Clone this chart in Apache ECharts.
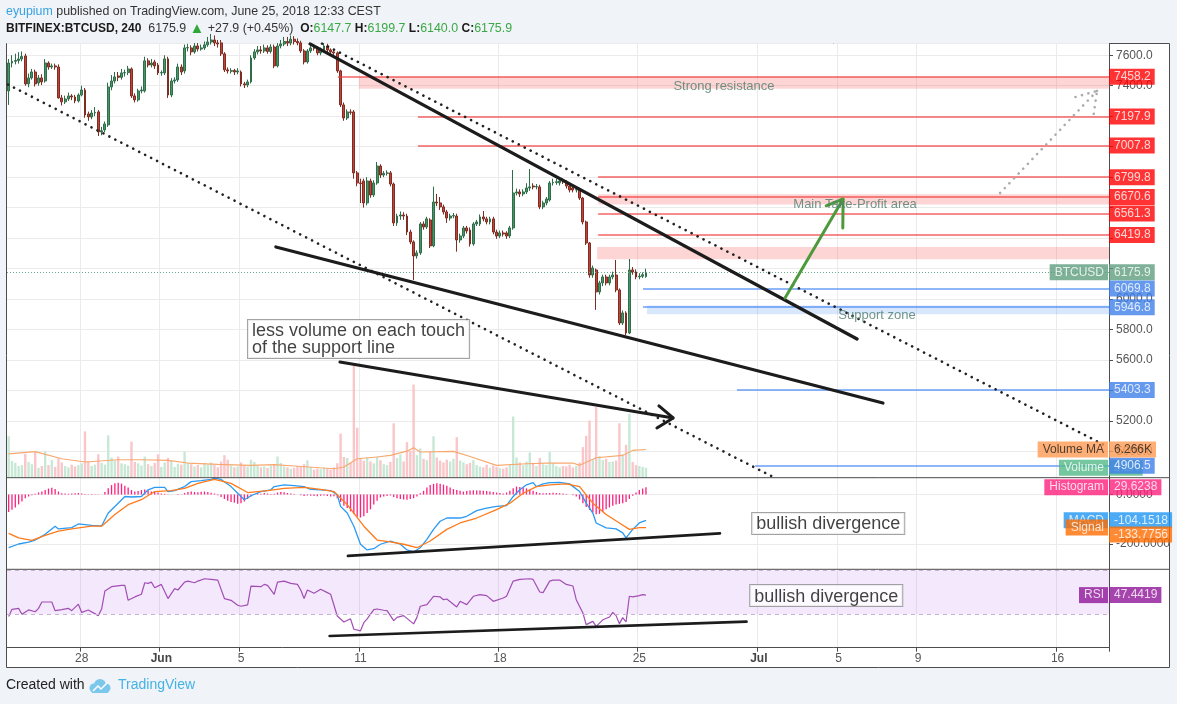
<!DOCTYPE html>
<html><head><meta charset="utf-8">
<script src="https://cdn.jsdelivr.net/npm/echarts@6/dist/echarts.min.js"></script>
<style>html,body{margin:0;padding:0;background:#f0f3f7;}#c{width:1177px;height:704px;}</style>
</head><body><div id="c"></div>
<script>
// ---------------- DATA ----------------
const headerUser = 'eyupium';
const headerRest = 'published on TradingView.com, June 25, 2018 12:33 CEST';
const symbolName = 'BITFINEX:BTCUSD, 240';
const changeText = '+27.9 (+0.45%)';
const footerText = 'Created with';
const footerBrand = 'TradingView';

const slotCount = 332;
const slotStartUTC = Date.UTC(2018, 4, 24, 8);
const slots = [];
for (let i = 0; i < slotCount; i++) slots.push(new Date(slotStartUTC + i * 4 * 3600e3).toISOString().slice(0, 13));

const dayTickSlots = [22, 46, 70, 106, 148, 190, 226, 250, 274, 316];
const dayTickLabels = ['28', 'Jun', '5', '11', '18', '25', 'Jul', '5', '9', '16'];
const monthTicks = ['Jun', 'Jul'];

// [open, close, low, high]
const candles = [
[7366,7549,7274,7575],[7549,7560,7520,7600],[7560,7566,7540,7610],[7566,7575,7545,7620],[7575,7592,7560,7625],
[7595,7412,7400,7610],[7412,7451,7390,7480],[7451,7490,7440,7510],[7490,7412,7395,7505],[7418,7451,7400,7470],
[7451,7425,7405,7475],[7431,7549,7420,7575],[7549,7523,7505,7560],[7523,7530,7510,7545],[7530,7523,7505,7545],
[7523,7320,7315,7540],[7320,7294,7270,7340],[7294,7313,7280,7335],[7313,7333,7300,7355],[7333,7326,7305,7345],
[7326,7300,7285,7340],[7300,7339,7290,7350],[7339,7372,7330,7400],[7372,7208,7190,7385],[7215,7195,7170,7230],
[7195,7221,7180,7240],[7221,7225,7200,7260],[7228,7097,7070,7240],[7097,7105,7075,7130],[7110,7149,7095,7165],
[7143,7392,7130,7420],[7392,7431,7370,7470],[7431,7458,7415,7490],[7464,7455,7430,7490],[7455,7484,7440,7510],
[7484,7486,7460,7505],[7486,7510,7470,7530],[7510,7333,7320,7520],[7333,7307,7290,7350],[7307,7366,7295,7380],
[7366,7372,7350,7395],[7366,7563,7355,7590],[7563,7536,7520,7580],[7536,7549,7520,7575],[7556,7530,7510,7570],
[7536,7484,7470,7550],[7484,7486,7465,7500],[7484,7576,7470,7600],[7576,7339,7320,7590],[7339,7431,7325,7450],
[7431,7438,7415,7455],[7438,7523,7425,7545],[7523,7490,7470,7540],[7497,7648,7480,7670],[7648,7650,7625,7675],
[7648,7622,7600,7665],[7622,7661,7610,7680],[7661,7641,7625,7680],[7641,7648,7630,7670],[7648,7668,7635,7690],
[7668,7687,7655,7720],[7687,7700,7670,7740],[7700,7681,7660,7730],[7681,7674,7650,7700],[7681,7609,7595,7700],
[7609,7504,7490,7620],[7504,7497,7480,7520],[7495,7500,7480,7515],[7500,7490,7470,7510],[7490,7497,7475,7515],
[7490,7412,7395,7500],[7412,7405,7385,7425],[7405,7425,7390,7440],[7425,7582,7415,7600],[7582,7622,7570,7640],
[7622,7635,7605,7660],[7635,7628,7610,7660],[7628,7648,7615,7670],[7648,7625,7610,7665],[7625,7654,7612,7672],
[7654,7530,7515,7670],[7530,7661,7520,7680],[7661,7674,7645,7700],[7674,7690,7660,7720],[7690,7680,7660,7720],
[7680,7705,7665,7730],[7705,7690,7670,7725],[7690,7681,7665,7710],[7681,7628,7615,7695],[7628,7556,7540,7640],
[7556,7628,7545,7640],[7628,7648,7615,7665],[7648,7645,7630,7665],[7645,7615,7600,7660],[7615,7635,7600,7650],
[7635,7661,7620,7680],[7661,7635,7620,7675],[7635,7622,7605,7645],[7622,7615,7600,7635],[7615,7497,7485,7625],
[7497,7274,7260,7505],[7274,7188,7170,7290],[7188,7228,7175,7245],[7228,7225,7210,7245],[7228,6828,6790,7240],
[6828,6762,6740,6840],[6762,6758,6630,6790],[6775,6631,6600,6790],[6631,6775,6615,6800],[6775,6683,6665,6790],
[6683,6762,6670,6780],[6762,6873,6750,6900],[6873,6814,6795,6885],[6814,6825,6800,6840],[6825,6828,6810,6845],
[6828,6755,6740,6840],[6755,6500,6480,6765],[6500,6545,6480,6560],[6545,6552,6520,6575],[6552,6545,6520,6570],
[6545,6440,6420,6560],[6440,6375,6360,6455],[6375,6283,6125,6385],[6283,6303,6265,6320],[6303,6493,6290,6505],
[6493,6473,6455,6510],[6473,6526,6460,6540],[6519,6349,6335,6530],[6349,6637,6340,6738],[6637,6631,6610,6690],
[6631,6605,6585,6670],[6605,6572,6555,6620],[6572,6532,6500,6585],[6532,6545,6515,6560],[6545,6548,6530,6565],
[6545,6388,6311,6560],[6388,6414,6370,6430],[6414,6467,6400,6480],[6467,6447,6430,6480],[6453,6362,6345,6470],
[6362,6493,6350,6505],[6493,6506,6480,6520],[6493,6539,6480,6555],[6539,6526,6510,6578],[6526,6506,6490,6540],
[6506,6526,6490,6540],[6526,6440,6425,6540],[6440,6414,6395,6455],[6414,6434,6400,6450],[6434,6427,6410,6450],
[6434,6414,6395,6445],[6414,6467,6400,6480],[6467,6696,6455,6847],[6696,6703,6680,6725],[6703,6690,6670,6720],
[6690,6703,6675,6720],[6703,6729,6690,6760],[6729,6736,6710,6853],[6742,6736,6720,6760],[6736,6738,6720,6755],
[6736,6605,6590,6750],[6605,6631,6590,6645],[6631,6657,6615,6670],[6650,6762,6640,6775],[6762,6765,6745,6790],
[6765,6770,6750,6790],[6762,6775,6745,6795],[6775,6768,6755,6790],[6768,6742,6725,6780],[6742,6716,6700,6755],
[6729,6716,6700,6740],[6716,6718,6700,6735],[6722,6663,6650,6730],[6663,6506,6490,6670],[6506,6368,6355,6515],
[6368,6158,6140,6375],[6158,6204,6140,6220],[6191,6047,5929,6200],[6047,6106,6030,6120],[6106,6145,6085,6160],
[6145,6106,6090,6160],[6106,6145,6090,6160],[6145,6158,6130,6180],[6158,6060,6045,6257],[6060,5843,5830,6070],
[5843,5909,5830,5925],[5909,5778,5764,5920],[5778,6191,5770,6263],[6191,6178,6160,6210],[6178,6145,6130,6195],
[6145,6150,6130,6170],[6150,6160,6138,6175],[6147.7,6175.9,6140.0,6199.7]
];

const volumes = [
9200,3700,3300,2600,2800,5300,3500,3000,5700,2200,
2600,5900,2800,3900,2400,4300,3400,2600,2300,2900,
2500,2800,3200,10300,3600,2600,2900,5200,3300,2900,
9400,4500,3800,4700,3200,3000,2700,8000,3500,3200,
2700,4700,3000,2600,3300,5200,2400,3400,4400,3900,
2400,3100,2900,5800,3300,3000,2500,2800,2300,3300,
2900,3400,2800,2300,3600,5000,4000,2700,2300,2500,
3400,2800,2500,4000,3500,2600,2300,2500,2200,2700,
3000,4700,3300,2500,2300,2000,2200,2600,2400,3000,
3850,2400,1800,2000,1900,2200,2000,1800,2300,3200,
9800,4600,4400,3300,25500,11100,4200,3800,4500,3600,
3200,4700,3900,3000,2800,3500,12100,4400,5200,3600,
7900,6000,20700,5000,6500,4200,3900,5800,9200,4500,
3800,3400,4000,3600,4200,9000,3800,3400,3000,3300,
3900,2800,2500,2300,2900,2200,2700,2400,2100,2000,
2300,3000,13600,4500,3400,2800,3600,5600,3300,2600,
4400,3000,2800,5700,3200,2600,2300,2600,2500,2900,
2300,2600,3400,6800,9300,12700,4000,15700,4800,3900,
4200,3500,3600,3800,12100,5200,7300,14200,3500,2800,
2600,2400,2200
];

const volumeMaPoints = [[0,5300],[8,5800],[16,4200],[23,3500],[33,4000],[40,4000],[48,3850],[54,3250],[63,2960],[73,2740],[80,2900],[86,2600],[98,2000],[101,2370],[105,4200],[111,4600],[115,4960],[120,5900],[122,6660],[124,5700],[134,5850],[139,4700],[147,2740],[156,3100],[162,3250],[170,3250],[172,2740],[177,4440],[185,4960],[188,6070],[192,6266]];

const histogram = [
-71,-62,-52,-40,-28,-15,-8,-3,3,8,
12,18,24,27,22,12,5,4,3,4,
5,6,4,2,1,2,1,1,0,10,
25,38,45,47,44,35,28,18,12,14,
18,20,17,12,10,8,4,3,1,0,
0,2,1,6,10,12,10,9,11,12,
10,7,4,-3,-10,-18,-25,-30,-33,-37,
-35,-28,-18,-8,0,5,3,6,4,-2,
3,8,10,9,6,4,2,0,-3,-6,
-4,-5,-6,-7,-5,-4,-6,-8,-7,-15,
-30,-45,-55,-68,-80,-90,-93,-88,-75,-60,
-40,-25,-12,-8,-6,-4,-10,-15,-18,-20,
-21,-18,-15,-8,5,15,28,38,43,45,
43,40,35,28,22,18,15,12,14,16,
17,16,16,15,14,12,10,8,6,4,
8,15,25,32,30,28,25,20,15,10,
6,5,5,6,7,6,5,4,2,0,
-3,-8,-20,-35,-50,-62,-72,-80,-78,-70,
-60,-52,-45,-40,-38,-35,-30,-18,-5,8,
18,24,29.6238
];

const macdPoints = [[0,-215],[3,-200],[6,-192],[8,-184],[11,-161],[14,-128],[15,-139],[19,-134],[21,-119],[25,-125],[28,-127],[30,-75],[33,-35],[35,-8],[37,-10],[40,-8],[42,19],[44,29],[47,29],[48,12],[50,16],[53,32],[55,52],[58,56],[61,61],[62,66],[64,61],[67,32],[69,5],[71,-21],[73,-5],[76,12],[79,19],[80,32],[83,39],[86,36],[89,32],[91,21],[94,19],[97,16],[99,-1],[100,-48],[102,-75],[104,-128],[106,-201],[108,-224],[110,-219],[112,-201],[115,-188],[118,-201],[120,-224],[122,-232],[124,-215],[126,-181],[128,-141],[130,-108],[132,-95],[136,-95],[138,-88],[141,-65],[144,-55],[147,-48],[150,-45],[152,-8],[154,19],[156,39],[158,48],[159,32],[161,43],[163,48],[166,49],[169,43],[172,12],[174,-35],[176,-75],[177,-115],[180,-135],[183,-139],[185,-155],[186,-175],[188,-141],[190,-115],[192,-104.1518]];

const signalPoints = [[0,-157],[3,-175],[7,-185],[11,-165],[15,-148],[19,-139],[25,-128],[28,-128],[32,-81],[36,-41],[40,-21],[44,12],[49,16],[53,25],[57,45],[62,61],[67,45],[72,8],[78,16],[83,25],[89,29],[94,21],[98,12],[102,-41],[107,-128],[111,-184],[115,-191],[119,-201],[123,-215],[127,-188],[132,-141],[136,-115],[141,-95],[147,-61],[151,-35],[155,5],[159,32],[163,39],[168,43],[172,32],[176,-35],[180,-81],[184,-115],[187,-141],[190,-134],[192,-133.7756]];

const rsiPoints = [[0,28],[1,34.5],[3,35.4],[4,30],[6,34],[8,32.3],[9,35.4],[10,41.2],[13,41.2],[14,33.3],[16,34.2],[18,35.4],[19,33.3],[21,39.2],[22,31.7],[24,33.9],[27,28.8],[28,34.8],[29,51.2],[31,55.1],[34,56.3],[35,56.3],[36,42.7],[38,45.8],[40,48.2],[41,58.7],[42,58.1],[43,59.3],[44,54.2],[46,57.2],[48,44.3],[50,53.3],[51,52.1],[53,59.3],[54,60.2],[56,58.7],[57,60.2],[59,62.3],[61,61.7],[63,61.1],[65,44.3],[67,42.7],[69,38.2],[70,37.3],[72,38.5],[73,55.7],[76,55.1],[77,57.2],[78,56.3],[80,48.2],[81,59.3],[83,60.2],[85,58.1],[87,57.2],[88,52.1],[89,44.3],[90,52.1],[92,49.1],[94,52.7],[96,49.7],[97,48.2],[99,28.5],[101,23],[103,25.9],[104,16.4],[106,15],[107,22.4],[108,25.9],[110,34.2],[111,34.8],[113,33.7],[114,33.3],[116,24.2],[117,27.2],[119,28.8],[122,21.3],[123,27.2],[124,37.3],[126,38.8],[128,46.4],[130,45.8],[131,43.3],[132,43.9],[135,36.7],[136,41.8],[138,38.8],[140,46.4],[142,47.9],[144,47],[146,41.8],[149,44.8],[150,46.4],[152,60.2],[154,61.7],[157,62.3],[158,61.7],[160,50.3],[161,49.7],[163,60.2],[164,61.1],[166,61.1],[168,57.2],[170,55.7],[171,43.3],[173,31.2],[174,20.6],[176,23.6],[177,19],[179,25],[181,27.5],[182,31.8],[183,28.8],[184,21.5],[185,27],[186,23],[187,46.4],[188,45.8],[190,47],[191,47.9],[192,47.4419]];

// drawn levels (price, start slot)
const resistanceLevels = [7458.2, 7197.9, 7007.8, 6799.8, 6670.6, 6561.3, 6419.8];
const resistanceFrom = [99.2, 123.3, 123.3, 177.6, 177.6, 177.6, 177.6];
const resistanceZones = [[7380, 7458.2], [6620, 6688], [6262, 6342]];
const resistanceZoneFrom = [105.5, 177.6, 177.3];
const supportLevels = [6069.8, 5946.8, 5403.3, 4906.5];
const supportFrom = [191.1, 191.1, 219.4, 224.9];
const supportZones = [[5900, 5958]];
const supportZoneFrom = [192.3];

// drawn trend lines ([slot, price] pairs)
const dottedLines = [[[94.4, 7677], [330.9, 5033]], [[-0.2, 7408], [230.3, 4833]]];
const solidLines = [[[90.8, 7674], [255.6, 5738]], [[80.5, 6342], [263.4, 5318]]];
const volumeArrow = [[99.8, 5587], [200.2, 5220]];
const volumeArrowHead = [[195.9, 5299], [200.2, 5220], [195.3, 5154]];
const targetArrow = [[233.9, 6007], [251.4, 6657]];
const targetArrowHead = [[246.3, 6612], [251.4, 6657], [251.3, 6467]];
const projection = [[298.7, 6696], [327.9, 7366]];
const projectionHead = [[[321.4, 7326], [327.9, 7366]], [[326.9, 7215], [327.9, 7366]]];
const macdDivergence = [[102.2, -248], [214.3, -157]];
const rsiDivergence = [[96.7, 10.3], [222.3, 23.3]];

const priceNotes = [['Strong resistance', 215.5, 7398], ['Main Take-Profit area', 255, 6624], ['Support zone', 261.6, 5896]];
const volumeNote = ['less volume on each touch', 'of the support line'];
const volumeNoteAt = [72.1, 5863];
const macdNote = 'bullish divergence', macdNoteAt = [224, -74.7];
const rsiNote = 'bullish divergence', rsiNoteAt = [223.4, 56.6];

// ---------------- CHART ----------------
const FONT = "'Liberation Sans', Arial, sans-serif";
const NARROW = "'Liberation Sans Narrow', 'Arial Narrow', 'Liberation Sans', sans-serif";
const RIGHT = 331.5;
const last = candles[candles.length - 1];
const lastVol = volumes[volumes.length - 1];
const lastMa = volumeMaPoints[volumeMaPoints.length - 1][1];
const lastMacd = macdPoints[macdPoints.length - 1][1];
const lastSig = signalPoints[signalPoints.length - 1][1];
const lastHist = histogram[histogram.length - 1];
const lastRsi = rsiPoints[rsiPoints.length - 1][1];

const UP = '#4a9468', DOWN = '#c0443a';
const RED = '#ff0000', BLUE = '#3d7fe8', TVGREEN = '#5e9e7e';
const mainTagPrices = resistanceLevels.concat(supportLevels, [last[1]]);
const PX_PER_USD = 434.2 / (7677 - 4828);

function tag(xi, yi, value, text, bg, fg, side, extra) {
  return {
    type: 'scatter', xAxisIndex: xi, yAxisIndex: yi, symbolSize: 0, clip: false, silent: true, z: extra && extra.z || 20,
    data: [[RIGHT, value]],
    label: Object.assign({
      show: true, position: side, distance: side === 'right' ? 0 : 1, formatter: text,
      backgroundColor: bg, color: fg, fontSize: 12, lineHeight: 13, padding: [2, 4, 1, 5], fontFamily: FONT
    }, extra && extra.label || {})
  };
}
function trend(xi, yi, pts, color, width, dash) {
  return { type: 'line', xAxisIndex: xi, yAxisIndex: yi, data: pts, showSymbol: false, symbol: 'none', silent: true, z: 8,
    lineStyle: { color: color, width: width, type: dash || 'solid', cap: 'round' } };
}
function note(xi, yi, at, text, boxed, size) {
  return { type: 'scatter', xAxisIndex: xi, yAxisIndex: yi, symbol: 'rect', symbolSize: 0, clip: false, silent: true, z: 15,
    data: [at],
    label: boxed ? { show: true, position: [0, 0], align: 'left', verticalAlign: 'top', formatter: text, color: '#111', fontSize: size, lineHeight: 17,
      fontFamily: FONT, backgroundColor: '#fff', borderColor: '#8c8c8c', borderWidth: 1, padding: [3, 4, 1, 4] }
      : { show: true, position: 'inside', formatter: text, color: '#4d7a6c', fontSize: 13, fontFamily: FONT } };
}

const dayInterval = (i) => dayTickSlots.indexOf(i) >= 0;
function catAxis(grid, bottom) {
  return {
    type: 'category', gridIndex: grid, data: slots, boundaryGap: true, show: true,
    axisLine: { show: !!bottom, onZero: false, lineStyle: { color: '#4d4d4d' } },
    axisTick: { show: !!bottom, interval: dayInterval, length: 4, lineStyle: { color: '#4d4d4d' } },
    axisLabel: { show: !!bottom, interval: dayInterval, margin: 5, color: '#555', fontSize: 12, fontFamily: NARROW,
      formatter: (v, i) => { const t = dayTickLabels[dayTickSlots.indexOf(i)]; return monthTicks.indexOf(t) >= 0 ? '{b|' + t + '}' : t; },
      rich: { b: { fontWeight: 'bold', color: '#444', fontSize: 12, fontFamily: NARROW } } },
    splitLine: { show: true, interval: dayInterval, lineStyle: { color: '#ebebeb', width: 1 } }
  };
}
const valAxis = (grid) => ({ type: 'value', gridIndex: grid, min: -0.5, max: RIGHT, show: false,
  axisLine: { show: false, onZero: false }, axisTick: { show: false }, axisLabel: { show: false }, splitLine: { show: false } });

const series = [];
// zones
series.push({ type: 'line', xAxisIndex: 1, yAxisIndex: 0, data: [], z: 1, silent: true,
  markArea: { silent: true, itemStyle: { color: 'rgba(248,80,80,0.24)' },
    data: resistanceZones.map((z, i) => [{ coord: [resistanceZoneFrom[i], z[1]] }, { coord: [RIGHT, z[0]] }]) } });
series.push({ type: 'line', xAxisIndex: 1, yAxisIndex: 0, data: [], z: 1, silent: true,
  markArea: { silent: true, itemStyle: { color: 'rgba(66,133,244,0.2)' },
    data: supportZones.map((z, i) => [{ coord: [supportZoneFrom[i], z[1]] }, { coord: [RIGHT, z[0]] }]) } });
// volume
series.push({ type: 'bar', xAxisIndex: 0, yAxisIndex: 1, barWidth: 2.4, z: 2, silent: true,
  data: volumes.map((v, i) => ({ value: v, itemStyle: { color: candles[i][1] >= candles[i][0] ? '#c8e8d6' : '#f9c6c9' } })) });
series.push({ type: 'line', xAxisIndex: 1, yAxisIndex: 1, data: volumeMaPoints, showSymbol: false, z: 3, silent: true,
  lineStyle: { color: '#f8a86e', width: 1.1 } });
// levels
series.push({ type: 'line', xAxisIndex: 1, yAxisIndex: 0, data: [], z: 3, silent: true,
  markLine: { silent: true, symbol: ['none', 'none'], label: { show: false },
    data: resistanceLevels.map((p, i) => [{ coord: [resistanceFrom[i], p], lineStyle: { color: 'rgba(242,60,60,0.6)', width: 2, type: 'solid' } }, { coord: [RIGHT, p] }])
      .concat(supportLevels.map((p, i) => [{ coord: [supportFrom[i], p], lineStyle: { color: 'rgba(66,133,244,0.6)', width: 2, type: 'solid' } }, { coord: [RIGHT, p] }]))
      .concat([[{ coord: [-0.5, last[1]], lineStyle: { color: '#6aa88a', width: 1, type: [1, 2] } }, { coord: [RIGHT, last[1]] }]]) } });
// candles
series.push({ type: 'candlestick', xAxisIndex: 0, yAxisIndex: 0, data: candles, barWidth: 2.4, z: 4, silent: true,
  itemStyle: { color: UP, color0: DOWN, borderColor: '#2f6e4a', borderColor0: '#7f2c23', borderWidth: 1 } });
// drawings main
dottedLines.forEach(l => series.push(trend(1, 0, l, '#222', 2.6, [0.1, 6.6])));
solidLines.forEach(l => series.push(trend(1, 0, l, '#1c1c1c', 3.2)));
series.push(trend(1, 0, volumeArrow, '#1c1c1c', 3));
series.push(trend(1, 0, volumeArrowHead, '#1c1c1c', 3));
series.push(trend(1, 0, targetArrow, '#4c9a3c', 3));
series.push(trend(1, 0, targetArrowHead, '#4c9a3c', 3));
series.push(trend(1, 0, projection, '#ababab', 2.6, [0.1, 6.6]));
projectionHead.forEach(l => series.push(trend(1, 0, l, '#ababab', 2.6, [0.1, 6.6])));
priceNotes.forEach(n => series.push(note(1, 0, [n[1], n[2]], n[0], false)));
series.push(note(1, 0, volumeNoteAt, volumeNote.join('\n'), true, 18));
// MACD pane
series.push({ type: 'bar', xAxisIndex: 2, yAxisIndex: 2, data: histogram, barWidth: 1.3, z: 3, silent: true, itemStyle: { color: '#ff1f7d' } });
series.push({ type: 'line', xAxisIndex: 3, yAxisIndex: 2, data: macdPoints, showSymbol: false, z: 4, silent: true, lineStyle: { color: '#2b9af3', width: 1.3 } });
series.push({ type: 'line', xAxisIndex: 3, yAxisIndex: 2, data: signalPoints, showSymbol: false, z: 4, silent: true, lineStyle: { color: '#ff7a1a', width: 1.3 } });
series.push(trend(3, 2, macdDivergence, '#1c1c1c', 2.6));
series.push(note(3, 2, macdNoteAt, macdNote, true, 18));
// RSI pane
series.push({ type: 'line', xAxisIndex: 5, yAxisIndex: 3, data: rsiPoints, showSymbol: false, z: 4, silent: true, lineStyle: { color: '#a24db5', width: 1.2 },
  markArea: { silent: true, itemStyle: { color: 'rgba(153,51,230,0.11)' }, data: [[{ yAxis: 30 }, { yAxis: 70 }]] },
  markLine: { silent: true, symbol: ['none', 'none'], label: { show: false }, lineStyle: { color: '#c7b2cf', type: [4, 4], width: 1 }, data: [{ yAxis: 30 }, { yAxis: 70 }] } });
series.push(trend(5, 3, rsiDivergence, '#1c1c1c', 2.6));
series.push(note(5, 3, rsiNoteAt, rsiNote, true, 18));
// axis tags
resistanceLevels.forEach(p => series.push(tag(1, 0, p, p.toFixed(1), RED, '#fff', 'right')));
series.push(tag(1, 1, lastVol, (lastVol / 1000).toFixed(1) + 'K', '#53b987', '#fff', 'right', { z: 18 }));
series.push(tag(1, 1, lastVol, 'Volume', '#53b987', '#fff', 'left', { z: 18 }));
supportLevels.forEach(p => series.push(tag(1, 0, p, p.toFixed(1), BLUE, '#fff', 'right')));
series.push(tag(1, 0, last[1], last[1].toFixed(1), TVGREEN, '#fff', 'right'));
series.push(tag(1, 0, last[1], 'BTCUSD', TVGREEN, '#fff', 'left'));
series.push(tag(1, 1, lastMa, (lastMa / 1000).toFixed(3) + 'K', '#ff9a52', '#222', 'right'));
series.push(tag(1, 1, lastMa, 'Volume MA', '#ff9a52', '#222', 'left'));
series.push(tag(3, 2, lastHist, lastHist.toFixed(4), '#ff1f7d', '#fff', 'right'));
series.push(tag(3, 2, lastHist, 'Histogram', '#ff1f7d', '#fff', 'left'));
series.push(tag(3, 2, lastMacd, lastMacd.toFixed(4), '#2196f3', '#fff', 'right'));
series.push(tag(3, 2, lastMacd, 'MACD', '#2196f3', '#fff', 'left'));
series.push(tag(3, 2, lastSig, lastSig.toFixed(4), '#ff6d00', '#fff', 'right', { z: 21, label: { offset: [0, 7] } }));
series.push(tag(3, 2, lastSig, 'Signal', '#ff6d00', '#fff', 'left', { z: 21 }));
series.push(tag(5, 3, lastRsi, lastRsi.toFixed(4), '#8e1599', '#fff', 'right'));
series.push(tag(5, 3, lastRsi, 'RSI', '#8e1599', '#fff', 'left'));

const G = { left: 7, width: 1102 };
const yLine = { show: true, onZero: false, lineStyle: { color: '#4d4d4d' } };
const rich = (c, w, s) => ({ color: c, fontWeight: w, fontSize: s || 12.4, lineHeight: 17, fontFamily: FONT });
const priceLabel = v => mainTagPrices.some(p => Math.abs(p - v) * PX_PER_USD < 6) ? '' : v.toFixed(1);
const option = {
  animation: false,
  backgroundColor: '#f0f3f7',
  textStyle: { fontFamily: FONT },
  title: {
    left: 6, top: 3.5, padding: 0, itemGap: 0,
    text: '{u|' + headerUser + '} {n|' + headerRest + '}\n{b|' + symbolName + '}  {n|' + last[1].toFixed(1) + '} {t|▲} {n|' + changeText + '}  {b|O:}{g|' + last[0].toFixed(1) + '} {b|H:}{g|' + last[3].toFixed(1) + '} {b|L:}{g|' + last[2].toFixed(1) + '} {b|C:}{g|' + last[1].toFixed(1) + '}',
    textStyle: { fontWeight: 'normal', fontSize: 12.4, rich: {
      u: rich('#36a2e3', 'normal'), n: rich('#333', 'normal'), b: rich('#1a1a1a', 'bold', 12),
      g: rich('#3aa945', 'normal'), t: rich('#2ea836', 'normal', 15) } }
  },
  grid: [
    Object.assign({ top: 43.5, height: 434.2 }, G),
    Object.assign({ top: 477.7, height: 91.6 }, G),
    Object.assign({ top: 569.3, height: 78.4 }, G)
  ],
  xAxis: [catAxis(0), valAxis(0), catAxis(1), valAxis(1), catAxis(2, true), valAxis(2)],
  yAxis: [
    { type: 'value', gridIndex: 0, position: 'right', min: 4828, max: 7677, splitNumber: 14, scale: true,
      axisLine: yLine, axisTick: { show: true, inside: false, length: 4, lineStyle: { color: '#4d4d4d' } },
      axisLabel: { color: '#555', fontSize: 12, margin: 7, showMinLabel: false, showMaxLabel: false, formatter: priceLabel },
      splitLine: { lineStyle: { color: '#ebebeb' } } },
    { type: 'value', gridIndex: 0, position: 'right', min: 0, max: 96500, show: false,
      axisLine: { show: false, onZero: false }, axisTick: { show: false }, axisLabel: { show: false }, splitLine: { show: false } },
    { type: 'value', gridIndex: 1, position: 'right', min: -302.2, max: 67.9, splitNumber: 2, scale: true,
      axisLine: yLine, axisTick: { show: true, inside: false, length: 4, lineStyle: { color: '#4d4d4d' } },
      axisLabel: { color: '#555', fontSize: 12, margin: 7, showMinLabel: false, showMaxLabel: false, formatter: v => v.toFixed(4) },
      splitLine: { lineStyle: { color: '#ebebeb' } } },
    { type: 'value', gridIndex: 2, position: 'right', min: -0.36, max: 70.91, scale: true,
      axisLine: yLine, axisTick: { show: false }, axisLabel: { show: false }, splitLine: { show: false } }
  ],
  graphic: [
    { type: 'rect', z: -100, silent: true, shape: { x: 6.5, y: 43.5, width: 1163, height: 624 }, style: { fill: '#fff', stroke: '#4d4d4d', lineWidth: 1 } },
    { type: 'line', z: 100, silent: true, shape: { x1: 6.5, y1: 477.7, x2: 1169.5, y2: 477.7 }, style: { stroke: '#4d4d4d', lineWidth: 1 } },
    { type: 'line', z: 100, silent: true, shape: { x1: 6.5, y1: 569.3, x2: 1169.5, y2: 569.3 }, style: { stroke: '#4d4d4d', lineWidth: 1 } },
    { type: 'text', z: 100, silent: true, x: 6, y: 678, style: { text: footerText, fill: '#222', font: '14px ' + NARROW } },
    { type: 'group', z: 100, silent: true, x: 88, y: 678, children: [
      { type: 'circle', shape: { cx: 6, cy: 10, r: 4.5 }, style: { fill: '#7cc7ec' } },
      { type: 'circle', shape: { cx: 12, cy: 7, r: 6 }, style: { fill: '#7cc7ec' } },
      { type: 'circle', shape: { cx: 18, cy: 10, r: 4.5 }, style: { fill: '#7cc7ec' } },
      { type: 'rect', shape: { x: 4, y: 9, width: 16, height: 6 }, style: { fill: '#7cc7ec' } },
      { type: 'polyline', shape: { points: [[5, 13], [10, 8], [13, 11], [19, 5]] }, style: { stroke: '#fff', lineWidth: 1.5, fill: null } }
    ] },
    { type: 'text', z: 100, silent: true, x: 118, y: 678, style: { text: footerBrand, fill: '#45b2e6', font: '14px ' + NARROW } }
  ],
  series: series
};
const chart = echarts.init(document.getElementById('c'), null, { renderer: 'canvas' });
chart.setOption(option);
</script></body></html>
